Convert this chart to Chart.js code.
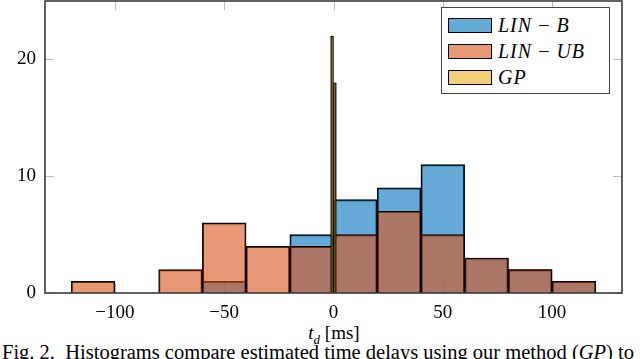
<!DOCTYPE html>
<html>
<head>
	<meta charset="UTF-8">
	<title>histogram</title>
	<script src="https://cdn.jsdelivr.net/npm/chart.js"></script>
	<style>
	body{margin:0; background:#fff; font-family:"Liberation Serif", serif;}
	#wrap{position:relative; width:640px; height:359px; overflow:hidden;}
	#box{position:absolute; left:0; top:0; width:640px; height:320px;}
	#legend{position:absolute; left:441px; top:7px; width:169px; height:87px; border:1px solid #444; background:#fff; box-sizing:border-box;}
	.row{position:absolute; left:6px; height:15px; font-size:20px; font-style:italic; line-height:15px; white-space:nowrap; letter-spacing:1px;}
	.sw{display:inline-block; width:44px; height:15px; border:1px solid #000; box-sizing:border-box; vertical-align:top; margin-right:6px;}
	.op{font-style:normal; margin:0 6px;}
	#xlab{position:absolute; left:0; width:668px; top:323px; text-align:center; font-size:19px; line-height:20px;}
	#cap{position:absolute; left:2px; top:341px; font-size:20.5px; line-height:22px; white-space:nowrap;}
	</style>
</head>
<body>
<div id="wrap">
	<div id="box"><canvas id="myChart"></canvas></div>
	<div id="legend">
		<div class="row" style="top:10px"><span class="sw" style="background:rgba(0,114,189,0.6)"></span>LIN<span class="op">&minus;</span>B</div>
		<div class="row" style="top:36px"><span class="sw" style="background:rgba(217,83,25,0.6)"></span>LIN<span class="op">&minus;</span>UB</div>
		<div class="row" style="top:62px"><span class="sw" style="background:rgba(237,177,32,0.6)"></span>GP</div>
	</div>
	<div id="xlab"><i>t<sub style="font-size:13px">d</sub></i> [ms]</div>
	<div id="cap">Fig. 2.&nbsp; Histograms compare estimated time delays using our method (<i>GP</i>) to</div>
</div>
<script>
// bin centres (width 20 ms) and counts
var binCenters = [-110, -90, -70, -50, -30, -10, 10, 30, 50, 70, 90, 110];
var linB  = [null, null, null, 1, null, 5, 8, 9, 11, 3, 2, 1];
var linUB = [1, null, 2, 6, 4, 4, 5, 7, 5, 3, 2, 1];
// GP histogram is very narrow around zero
var gpCenters = [-0.65, 0.65];
var gp = [22, 18];
var xTicks = [-100, -50, 0, 50, 100];
var yTicks = [0, 10, 20];

function pts(xs, ys){
	var out = [];
	for (var i = 0; i < xs.length; i++) out.push({x: xs[i], y: ys[i]});
	return out;
}

function noPad(s){ s.paddingTop = 0; s.paddingBottom = 0; s.paddingLeft = 0; s.paddingRight = 0; }

// frame + small gray ticks inside the plot box
var framePlugin = {
	id: 'frame',
	beforeDatasetsDraw: function(chart){
		var c = chart.ctx, a = chart.chartArea, sx = chart.scales.x, sy = chart.scales.y;
		c.save();
		c.strokeStyle = '#bdbdbd';
		c.lineWidth = 1;
		c.beginPath();
		xTicks.forEach(function(v){
			var p = Math.round(sx.getPixelForValue(v)) + 0.5;
			c.moveTo(p, a.bottom); c.lineTo(p, a.bottom - 9);
			c.moveTo(p, a.top); c.lineTo(p, a.top + 9);
		});
		yTicks.forEach(function(v){
			var p = Math.round(sy.getPixelForValue(v)) + 0.5;
			c.moveTo(a.left, p); c.lineTo(a.left + 9, p);
			c.moveTo(a.right, p); c.lineTo(a.right - 9, p);
		});
		c.stroke();
		c.restore();
	},
	afterDatasetsDraw: function(chart){
		var c = chart.ctx, a = chart.chartArea;
		c.save();
		c.strokeStyle = '#3a3a3a';
		c.lineWidth = 1.6;
		c.strokeRect(a.left, a.top, a.right - a.left, a.bottom - a.top);
		c.restore();
	}
};

const ctx = document.getElementById('myChart');
new Chart(ctx, {
	type: 'bar',
	data: {
		datasets: [{
			label: 'GP',
			data: pts(gpCenters, gp),
			xAxisID: 'x2',
			backgroundColor: 'rgba(237,177,32,0.6)',
			borderColor: '#000',
			borderWidth: 1.2,
			grouped: false,
			barPercentage: 1,
			categoryPercentage: 1
		}, {
			label: 'LIN - UB',
			data: pts(binCenters, linUB),
			backgroundColor: 'rgba(217,83,25,0.6)',
			borderColor: '#000',
			borderWidth: 1.3,
			grouped: false,
			barPercentage: 1,
			categoryPercentage: 1
		}, {
			label: 'LIN - B',
			data: pts(binCenters, linB),
			backgroundColor: 'rgba(0,114,189,0.6)',
			borderColor: '#000',
			borderWidth: 1.3,
			grouped: false,
			barPercentage: 1,
			categoryPercentage: 1
		}]
	},
	options: {
		responsive: true,
		maintainAspectRatio: false,
		animation: false,
		layout: {padding: {left: 0, right: 18, top: 1, bottom: 0}},
		plugins: {legend: {display: false}, tooltip: {enabled: false}},
		scales: {
			x: {
				type: 'linear', min: -132, max: 132, offset: false,
				grid: {display: false, drawTicks: false}, border: {display: false},
				afterBuildTicks: function(s){ s.ticks = xTicks.map(function(v){ return {value: v}; }); },
				afterFit: function(s){ s.height = 27; noPad(s); },
				ticks: {
					padding: 9, color: '#000', maxRotation: 0,
					font: {family: 'Liberation Serif', size: 19},
					callback: function(v){ return v < 0 ? '\u2212' + Math.abs(v) : '' + v; }
				}
			},
			x2: {
				type: 'linear', min: -132, max: 132, offset: false, display: false,
				afterBuildTicks: function(s){ s.ticks = xTicks.map(function(v){ return {value: v}; }); }
			},
			y: {
				min: 0, max: 25,
				grid: {display: false, drawTicks: false}, border: {display: false},
				afterBuildTicks: function(s){ s.ticks = yTicks.map(function(v){ return {value: v}; }); },
				afterFit: function(s){ s.width = 45; noPad(s); },
				ticks: {padding: 9, color: '#000', font: {family: 'Liberation Serif', size: 19}}
			}
		}
	},
	plugins: [framePlugin]
});
</script>
</body>
</html>
